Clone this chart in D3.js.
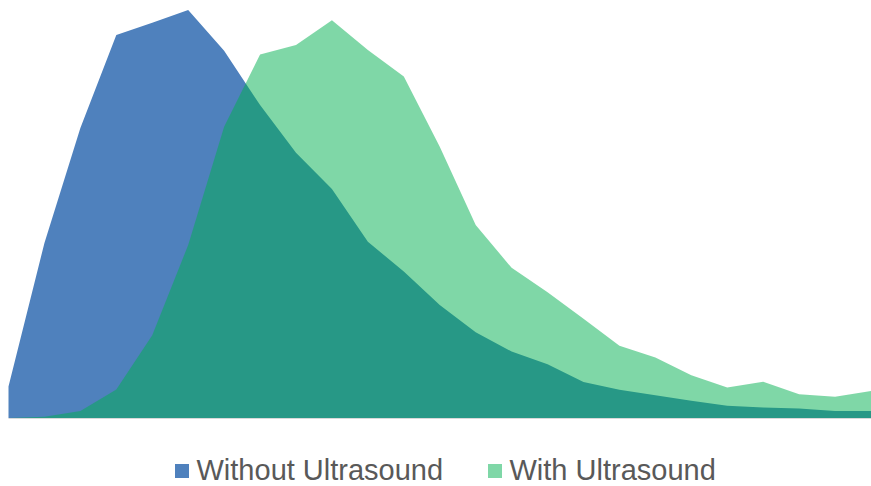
<!DOCTYPE html>
<html>
<head>
<meta charset="utf-8">
<script src="https://cdn.jsdelivr.net/npm/d3@7"></script>
<style>
  body { margin: 0; background: #fff; }
  svg { display: block; font-family: "Liberation Sans", Arial, sans-serif; }
</style>
</head>
<body>
<svg id="chart" width="871" height="486"></svg>
<script>
// categorias (25 pontos igualmente espaçados)
const categorias = d3.range(1, 26);
const seriesNomes = ["Without Ultrasound", "With Ultrasound"];
const semUltrassom = [7.7, 42.9, 71.1, 93.9, 96.9, 100, 90.0, 76.7, 65.0, 56.1, 43.2, 35.9, 27.7,
                      21.0, 16.3, 13.2, 8.8, 6.9, 5.6, 4.2, 3.0, 2.6, 2.3, 1.7, 1.7];
const comUltrassom = [0, 0.3, 1.7, 7.0, 20.3, 42.4, 71.4, 89.1, 91.4, 97.5, 90.2, 83.7, 66.5,
                      47.3, 36.8, 30.8, 24.3, 17.7, 14.8, 10.5, 7.5, 8.9, 5.8, 5.2, 6.6];

const config = {
    left: 8.5, right: 871, top: 10, bottom: 418,
    corAzul: "#4F81BD",
    corVerde: "#00B050"
};

const svg = d3.select("#chart");

const x = d3.scalePoint()
    .domain(categorias)
    .range([config.left, config.right]);

const y = d3.scaleLinear()
    .domain([0, 100])
    .range([config.bottom, config.top]);

const area = vals => d3.area()
    .x((d, i) => x(categorias[i]))
    .y0(y(0))
    .y1(d => y(d))(vals);

// eixo X (só a linha)
svg.append("line")
    .attr("x1", config.left).attr("x2", config.right)
    .attr("y1", config.bottom + 0.5).attr("y2", config.bottom + 0.5)
    .attr("stroke", "#d9d9d9").attr("stroke-width", 1);

svg.append("path")
    .attr("d", area(semUltrassom))
    .attr("fill", config.corAzul);

svg.append("path")
    .attr("d", area(comUltrassom))
    .attr("fill", config.corVerde)
    .attr("fill-opacity", 0.5);

// legenda
const legenda = [
    { nome: seriesNomes[0], cor: config.corAzul, opac: 1, x: 175 },
    { nome: seriesNomes[1], cor: config.corVerde, opac: 0.5, x: 488 }
];
const itens = svg.append("g").selectAll("g")
    .data(legenda).enter().append("g")
    .attr("transform", d => `translate(${d.x},464)`);

itens.append("rect")
    .attr("width", 14).attr("height", 14)
    .attr("fill", d => d.cor)
    .attr("fill-opacity", d => d.opac);

itens.append("text")
    .attr("x", 21.5).attr("y", 16)
    .attr("fill", "#595959")
    .attr("font-size", 29)
    .text(d => d.nome);
</script>
</body>
</html>
